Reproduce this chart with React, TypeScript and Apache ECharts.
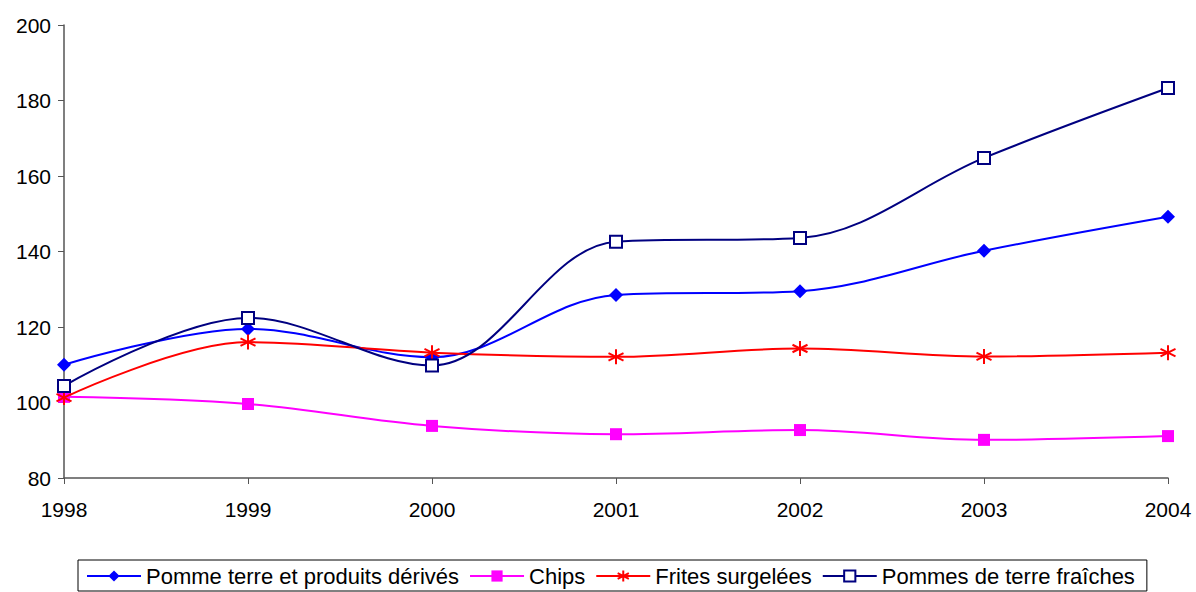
import React, { useEffect, useRef } from "react";
import * as echarts from "echarts";

const years = ["1998", "1999", "2000", "2001", "2002", "2003", "2004"];
const pommeTerre = [110, 119.5, 112, 128.5, 129.5, 140.2, 149.2];
const chips = [101.5, 99.6, 93.8, 91.6, 92.7, 90.1, 91.1];
const frites = [101.3, 116, 113.2, 112.1, 114.3, 112.2, 113.2];
const pommesFraiches = [104.4, 122.4, 109.8, 142.6, 143.6, 164.8, 183.3];
const yTicks = { min: 80, max: 200, interval: 20 };

const asterisk =
  "path://M5,0 L5,10 M0.7,2.5 L9.3,7.5 M0.7,7.5 L9.3,2.5";

export default function App() {
  const ref = useRef<HTMLDivElement>(null);
  useEffect(() => {
    if (!ref.current) return;
    const chart = echarts.init(ref.current, undefined, { renderer: "svg" });
    const font = "'Liberation Sans', Arial, sans-serif";
    chart.setOption({
      animation: false,
      textStyle: { fontFamily: font },
      grid: { left: 64, right: 28, top: 25, bottom: 114 },
      xAxis: {
        type: "category",
        data: years,
        boundaryGap: false,
        axisLine: { lineStyle: { color: "#555", width: 1.5 } },
        axisTick: { length: 6, lineStyle: { color: "#555" } },
        axisLabel: { color: "#000", fontSize: 21, margin: 21, fontFamily: font },
      },
      yAxis: {
        type: "value",
        min: yTicks.min,
        max: yTicks.max,
        interval: yTicks.interval,
        splitLine: { show: false },
        axisLine: { show: true, lineStyle: { color: "#555", width: 1.5 } },
        axisTick: { show: true, length: 6, lineStyle: { color: "#555" } },
        axisLabel: { color: "#000", fontSize: 21, margin: 13, fontFamily: font },
      },
      legend: {
        top: 560,
        left: 78,
        borderColor: "#000",
        borderWidth: 1,
        padding: [5, 12, 4, 8],
        itemGap: 10,
        itemWidth: 54,
        itemHeight: 14,
        textStyle: { fontSize: 22, color: "#000", fontFamily: font },
      },
      series: [
        {
          name: "Pomme terre et produits dérivés",
          type: "line",
          data: pommeTerre,
          smooth: 0.35,
          symbol: "diamond",
          symbolSize: 14,
          lineStyle: { color: "#0000FF", width: 2 },
          itemStyle: { color: "#0000FF" },
        },
        {
          name: "Chips",
          type: "line",
          data: chips,
          smooth: 0.35,
          symbol: "rect",
          symbolSize: 12,
          lineStyle: { color: "#FF00FF", width: 2 },
          itemStyle: { color: "#FF00FF" },
        },
        {
          name: "Frites surgelées",
          type: "line",
          data: frites,
          smooth: 0.35,
          symbol: asterisk,
          symbolSize: 15,
          lineStyle: { color: "#FF0000", width: 2 },
          itemStyle: { color: "none", borderColor: "#FF0000", borderWidth: 2 },
        },
        {
          name: "Pommes de terre fraîches",
          type: "line",
          data: pommesFraiches,
          smooth: 0.35,
          symbol: "rect",
          symbolSize: 12,
          lineStyle: { color: "#000080", width: 2 },
          itemStyle: { color: "#fff", borderColor: "#000080", borderWidth: 2 },
        },
      ],
    });
    return () => chart.dispose();
  }, []);
  return <div ref={ref} style={{ width: 1196, height: 592, position: "absolute", left: 0, top: 0 }} />;
}
